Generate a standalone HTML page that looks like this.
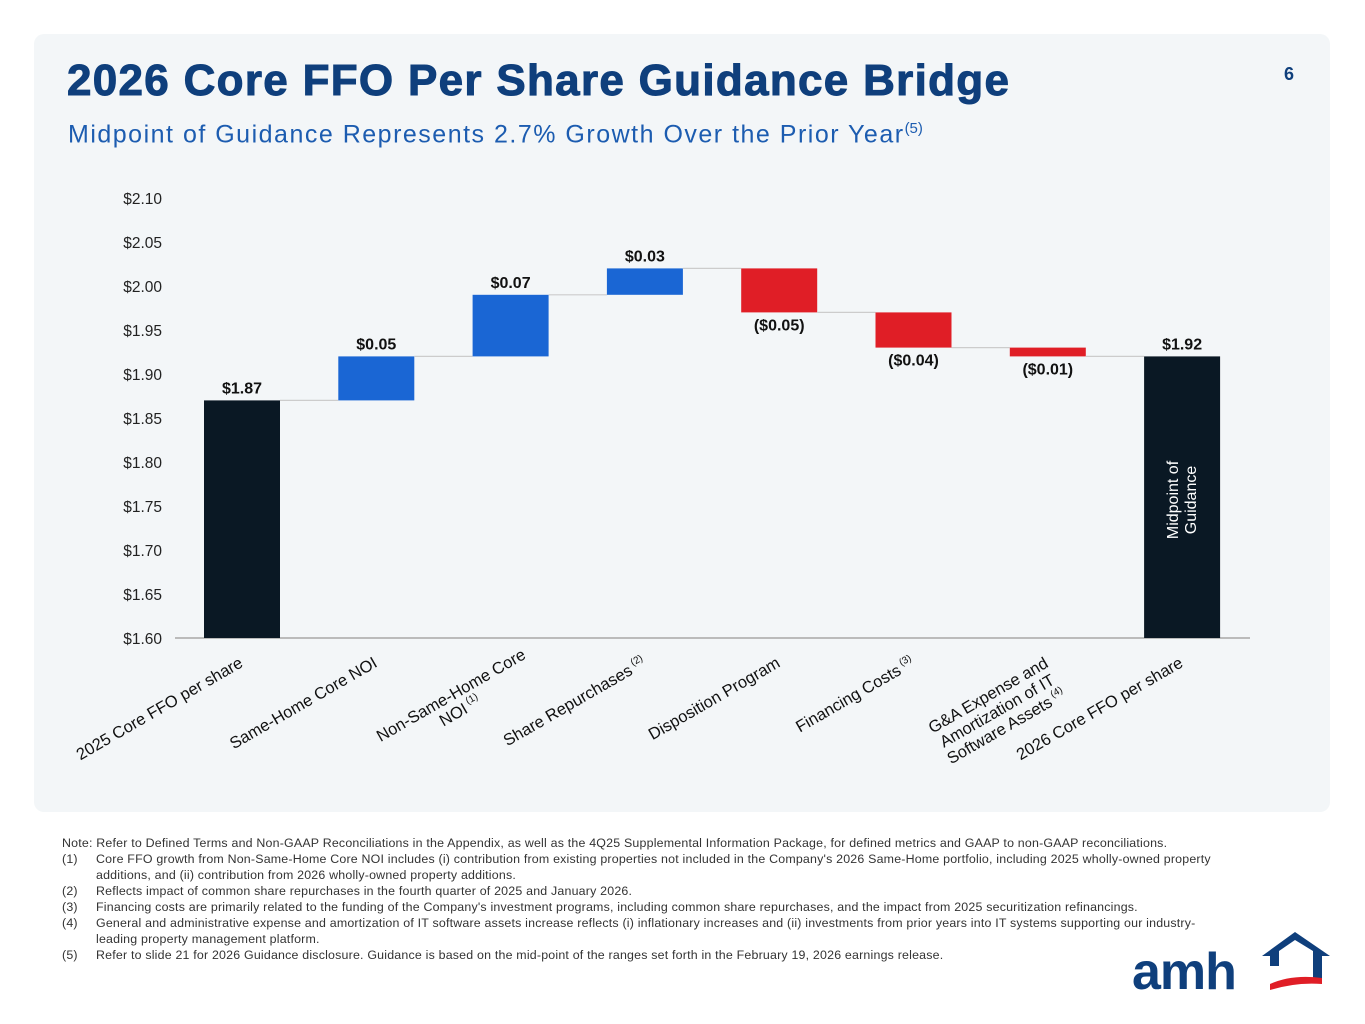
<!DOCTYPE html>
<html><head><meta charset="utf-8">
<style>
body{margin:0;width:1365px;height:1024px;background:#fff;font-family:"Liberation Sans",sans-serif;position:relative;overflow:hidden}
#card{position:absolute;left:34px;top:34px;width:1296px;height:778px;background:#f3f6f8;border-radius:10px}
#title{position:absolute;left:67px;top:56px;font-size:44px;font-weight:bold;color:#0f3f7c;letter-spacing:1.3px;margin:0;-webkit-text-stroke:1px #0f3f7c}
#subtitle{position:absolute;left:68px;top:120px;font-size:25px;color:#1c5cb0;letter-spacing:1.5px}
#subtitle sup{font-size:15px;letter-spacing:0}
#pnum{position:absolute;left:1284px;top:64px;font-size:18px;font-weight:bold;color:#0f3f7c}
#notes{position:absolute;left:62px;top:835px;font-size:12.4px;color:#333;line-height:16px;width:1160px;letter-spacing:0.2px}
.fn{display:flex}.fn span:first-child{width:34px;flex:none}
svg{position:absolute;left:0;top:0}
</style></head><body>
<div id="card"></div>
<h1 id="title">2026 Core FFO Per Share Guidance Bridge</h1>
<div id="subtitle">Midpoint of Guidance Represents 2.7% Growth Over the Prior Year<sup>(5)</sup></div>
<div id="pnum">6</div>
<svg id="chart" width="1365" height="1024"></svg>
<div id="notes">
<div>Note: Refer to Defined Terms and Non-GAAP Reconciliations in the Appendix, as well as the 4Q25 Supplemental Information Package, for defined metrics and GAAP to non-GAAP reconciliations.</div>
<div class="fn"><span>(1)</span><span>Core FFO growth from Non-Same-Home Core NOI includes (i) contribution from existing properties not included in the Company's 2026 Same-Home portfolio, including 2025 wholly-owned property additions, and (ii) contribution from 2026 wholly-owned property additions.</span></div>
<div class="fn"><span>(2)</span><span>Reflects impact of common share repurchases in the fourth quarter of 2025 and January 2026.</span></div>
<div class="fn"><span>(3)</span><span>Financing costs are primarily related to the funding of the Company's investment programs, including common share repurchases, and the impact from 2025 securitization refinancings.</span></div>
<div class="fn"><span>(4)</span><span>General and administrative expense and amortization of IT software assets increase reflects (i) inflationary increases and (ii) investments from prior years into IT systems supporting our industry-leading property management platform.</span></div>
<div class="fn"><span>(5)</span><span>Refer to slide 21 for 2026 Guidance disclosure. Guidance is based on the mid-point of the ranges set forth in the February 19, 2026 earnings release.</span></div>
</div>
<svg width="1365" height="1024">
<text x="1132" y="989" font-size="52" font-weight="bold" fill="#0f3f7c" font-family="Liberation Sans,sans-serif" letter-spacing="-1">amh</text>
<path d="M1262 956 L1295 932 L1330 956 L1322 956 L1322 978 L1313 978 L1313 951 L1295 940 L1279 951 L1279 966 L1270 966 L1270 956 Z" fill="#0f3f7c"/>
<path d="M1270 984 Q1292 974 1322 978 L1322 984 Q1296 982 1270 990 Z" fill="#e01e26"/>
</svg>
<script>
const categories=["2025 Core FFO per share","Same-Home Core NOI","Non-Same-Home Core NOI","Share Repurchases","Disposition Program","Financing Costs","G&A Expense and Amortization of IT Software Assets","2026 Core FFO per share"];
const deltas=[1.87,0.05,0.07,0.03,-0.05,-0.04,-0.01,1.92];
const kinds=["total","up","up","up","down","down","down","total"];
const valueLabels=["$1.87","$0.05","$0.07","$0.03","($0.05)","($0.04)","($0.01)","$1.92"];
const tickValues=[1.60,1.65,1.70,1.75,1.80,1.85,1.90,1.95,2.00,2.05,2.10];
const labelLines=[["2025 Core FFO per share"],["Same-Home Core NOI"],["Non-Same-Home Core","NOI|(1)"],["Share Repurchases|(2)"],["Disposition Program"],["Financing Costs|(3)"],["G&A Expense and","Amortization of IT","Software Assets|(4)"],["2026 Core FFO per share"]];
const NS="http://www.w3.org/2000/svg";
const svg=document.getElementById('chart');
const yMin=1.60,yMax=2.10,y0=638,y1=198;
const y=v=>y0-(v-yMin)/(yMax-yMin)*(y0-y1);
const x0=242,step=134.3,bw=76;
const x=i=>x0+i*step;
const colors={total:"#0a1824",up:"#1a66d4",down:"#e01e26"};
function el(t,a){const e=document.createElementNS(NS,t);for(const k in a)e.setAttribute(k,a[k]);svg.appendChild(e);return e;}
tickValues.forEach(v=>{const t=el('text',{x:162,y:y(v)+6,'text-anchor':'end','font-size':15.5,fill:'#222'});


t.textContent='$'+v.toFixed(2);});
const ax=el('line',{x1:175,x2:1250,y1:y0,y2:y0,stroke:'#bbb','stroke-width':2});


let run=0;
deltas.forEach((d,i)=>{
 let lo,hi,prev=run;
 if(kinds[i]==="total"){lo=yMin;hi=d;run=d;}
 else{run=prev+d;lo=Math.min(prev,run);hi=Math.max(prev,run);}
 const r=el('rect',{x:x(i)-bw/2,y:y(hi),width:bw,height:y(lo)-y(hi),fill:colors[kinds[i]]});
 
 
 if(i<deltas.length-1){const c=el('line',{x1:x(i)+bw/2,x2:x(i+1)-bw/2,y1:y(run),y2:y(run),stroke:'#ccc','stroke-width':1.2});
 
 }
 const ly=kinds[i]==="down"?y(lo)+18:y(hi)-7;
 const t=el('text',{x:x(i),y:ly,'text-anchor':'middle','font-size':16,'font-weight':'bold',fill:'#111'});
 
 
 t.textContent=valueLabels[i];
 const lines=labelLines[i];
 const g=document.createElementNS(NS,'g');
 
 
 g.setAttribute('transform',`translate(${x(i)+2},666) rotate(-30)`);
 svg.appendChild(g);
 const multi=lines.length>1;
 lines.forEach((ln,j)=>{
  const parts=ln.split('|');
  const tt=document.createElementNS(NS,'text');
  tt.setAttribute('x',multi?-68:0);tt.setAttribute('y',j*18);
  tt.setAttribute('text-anchor',multi?'middle':'end');
  tt.setAttribute('font-size',16.5);tt.setAttribute('fill','#111');
  tt.appendChild(document.createTextNode(parts[0]));
  if(parts[1]){const s=document.createElementNS(NS,'tspan');s.setAttribute('font-size',10);s.setAttribute('dy',-7);s.setAttribute('dx',3);s.textContent=parts[1];tt.appendChild(s);}
  g.appendChild(tt);
 });
});
const mg=document.createElementNS(NS,'text');
mg.setAttribute('transform',`translate(${x(7)},500) rotate(-90)`);
mg.setAttribute('text-anchor','middle');mg.setAttribute('font-size',16);mg.setAttribute('fill','#fff');


mg.innerHTML='<tspan x="0" y="-4">Midpoint of</tspan><tspan x="0" y="14">Guidance</tspan>';
svg.appendChild(mg);
</script>
</body></html>
